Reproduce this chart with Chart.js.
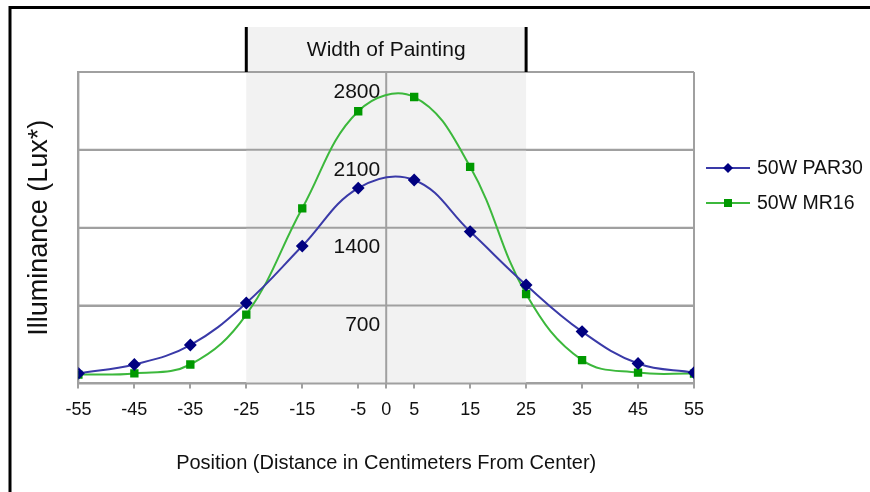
<!DOCTYPE html>
<html>
<head>
<meta charset="utf-8">
<script src="https://cdn.jsdelivr.net/npm/chart.js@4"></script>
<style>
  html, body { margin: 0; padding: 0; background: #fff; }
  #wrap { width: 870px; height: 492px; position: relative; }
</style>
</head>
<body>
<div id="wrap"><canvas id="lightChart" width="870" height="492"></canvas></div>
<script>
const positions = [-55, -45, -35, -25, -15, -5, 5, 15, 25, 35, 45, 55];
const par30 = [90, 170, 345, 723, 1235, 1756, 1829, 1365, 885, 466, 179, 97];
const mr16 = [79, 90, 170, 618, 1574, 2447, 2575, 1947, 804, 209, 97, 88];
const xTicks = [-55, -45, -35, -25, -15, -5, 0, 5, 15, 25, 35, 45, 55];
const yTicks = [0, 700, 1400, 2100, 2800];
const paintingRange = [-25, 25];

const FONT = "'Liberation Sans Narrow', 'Arial Narrow', 'Liberation Sans', sans-serif";

// shaded painting band, header box, inner y labels, legend and frame
const decorPlugin = {
  id: 'decor',
  beforeDatasetsDraw(chart) {
    const { ctx, chartArea, scales } = chart;
    const x0 = scales.x.getPixelForValue(paintingRange[0]);
    const x1 = scales.x.getPixelForValue(paintingRange[1]);
    ctx.save();
    ctx.fillStyle = '#f2f2f2';
    ctx.fillRect(x0, 27, x1 - x0, chartArea.bottom - 27);
    // redraw gridlines over the band
    ctx.strokeStyle = '#a0a0a0';
    ctx.lineWidth = 2;
    yTicks.forEach(v => {
      const y = scales.y.getPixelForValue(v);
      ctx.beginPath(); ctx.moveTo(chartArea.left, y); ctx.lineTo(chartArea.right, y); ctx.stroke();
    });
    [-55, 0, 55].forEach(v => {
      const x = scales.x.getPixelForValue(v);
      ctx.beginPath(); ctx.moveTo(x, chartArea.top); ctx.lineTo(x, chartArea.bottom); ctx.stroke();
    });
    // header bars
    ctx.strokeStyle = '#000';
    ctx.lineWidth = 3;
    [x0, x1].forEach(x => {
      ctx.beginPath(); ctx.moveTo(x, 27); ctx.lineTo(x, chartArea.top); ctx.stroke();
    });
    ctx.fillStyle = '#111';
    ctx.font = '21px ' + FONT;
    ctx.textAlign = 'center';
    ctx.textBaseline = 'middle';
    ctx.fillText('Width of Painting', (x0 + x1) / 2, 50);
    // y values inside the plot, left of the center line
    ctx.font = '21px ' + FONT;
    ctx.textAlign = 'right';
    const xc = scales.x.getPixelForValue(0) - 6;
    yTicks.slice(1).forEach(v => {
      ctx.fillText(String(v), xc, scales.y.getPixelForValue(v) + 20);
    });
    ctx.restore();
  },
  afterDraw(chart) {
    const { ctx } = chart;
    ctx.save();
    // legend
    ctx.font = '19.5px ' + FONT;
    ctx.textBaseline = 'middle';
    ctx.textAlign = 'left';
    chart.data.datasets.forEach((ds, i) => {
      const y = 168 + i * 35;
      ctx.strokeStyle = ds.borderColor;
      ctx.lineWidth = 2;
      ctx.beginPath(); ctx.moveTo(706, y); ctx.lineTo(750, y); ctx.stroke();
      ctx.fillStyle = ds.pointBackgroundColor;
      ctx.beginPath();
      if (ds.pointStyle === 'rectRot') {
        ctx.moveTo(728, y - 5); ctx.lineTo(733, y); ctx.lineTo(728, y + 5); ctx.lineTo(723, y);
      } else {
        ctx.rect(724, y - 4, 8, 8);
      }
      ctx.closePath(); ctx.fill();
      ctx.fillStyle = '#111';
      ctx.fillText(ds.label, 757, y + 1);
    });
    // outer frame (top and left visible)
    ctx.strokeStyle = '#000';
    ctx.lineWidth = 3;
    ctx.beginPath(); ctx.moveTo(10, 492); ctx.lineTo(10, 7.5); ctx.lineTo(870, 7.5); ctx.stroke();
    ctx.restore();
  }
};

new Chart(document.getElementById('lightChart').getContext('2d'), {
  type: 'line',
  data: {
    datasets: [
      {
        label: '50W PAR30',
        data: positions.map((p, i) => ({ x: p, y: par30[i] })),
        borderColor: '#3a3aa8',
        backgroundColor: '#000080',
        pointBackgroundColor: '#000080',
        pointBorderColor: '#000080',
        pointStyle: 'rectRot',
        pointRadius: 5,
        borderWidth: 2,
        tension: 0.4
      },
      {
        label: '50W MR16',
        data: positions.map((p, i) => ({ x: p, y: mr16[i] })),
        borderColor: '#3cb83c',
        backgroundColor: '#009900',
        pointBackgroundColor: '#009900',
        pointBorderColor: '#009900',
        pointStyle: 'rect',
        pointRadius: 4.5,
        borderWidth: 2,
        tension: 0.4
      }
    ]
  },
  options: {
    responsive: false,
    animation: false,
    layout: { padding: { top: 72, right: 176, bottom: 13, left: 19 } },
    plugins: {
      legend: { display: false },
      tooltip: { enabled: false }
    },
    scales: {
      x: {
        type: 'linear',
        min: -55,
        max: 55,
        afterBuildTicks: axis => { axis.ticks = xTicks.map(v => ({ value: v })); },
        grid: {
          color: 'rgba(0,0,0,0)',
          tickColor: '#a0a0a0',
          tickLength: 5,
          lineWidth: 2
        },
        border: { display: true, color: '#a0a0a0', width: 2 },
        ticks: {
          color: '#111',
          padding: 11,
          maxRotation: 0,
          autoSkip: false,
          font: { family: FONT, size: 18 }
        },
        title: {
          display: true,
          text: 'Position (Distance in Centimeters From Center)',
          color: '#111',
          font: { family: FONT, size: 20 },
          padding: { top: 19, bottom: 4 }
        }
      },
      y: {
        min: 0,
        max: 2800,
        afterBuildTicks: axis => { axis.ticks = yTicks.map(v => ({ value: v })); },
        grid: { color: '#a0a0a0', lineWidth: 2, drawTicks: false },
        border: { display: true, color: '#a0a0a0', width: 2 },
        ticks: { display: false },
        title: {
          display: true,
          text: 'Illuminance (Lux*)',
          color: '#111',
          font: { family: FONT, size: 27 },
          padding: { top: 4, bottom: 23 }
        }
      }
    }
  },
  plugins: [decorPlugin]
});
</script>
</body>
</html>
